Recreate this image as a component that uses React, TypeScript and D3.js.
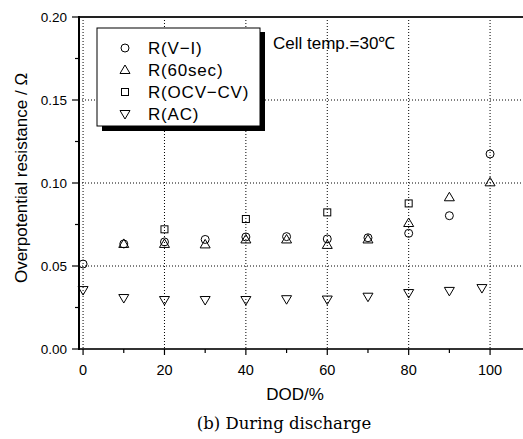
import React from "react";
import * as d3 from "d3";

const dodVI = [0, 10, 20, 30, 40, 50, 60, 70, 80, 90, 100];
const rVI = [0.0512, 0.0633, 0.0645, 0.066, 0.0675, 0.0677, 0.0663, 0.067, 0.0697, 0.0803, 0.1175];
const dod60 = [10, 20, 30, 40, 50, 60, 70, 80, 90, 100];
const r60 = [0.0633, 0.0633, 0.063, 0.066, 0.066, 0.0627, 0.066, 0.0759, 0.0914, 0.1004];
const dodOCV = [20, 40, 60, 80];
const rOCV = [0.0721, 0.0783, 0.0823, 0.0877];
const dodAC = [0, 10, 20, 30, 40, 50, 60, 70, 80, 90, 98];
const rAC = [0.0355, 0.0307, 0.0295, 0.0295, 0.0295, 0.03, 0.0298, 0.0315, 0.0337, 0.035, 0.0367];

const xMajor = [0, 20, 40, 60, 80, 100];
const xMinor = [10, 30, 50, 70, 90];
const yMajor = [0, 0.05, 0.1, 0.15, 0.2];
const yMinor = [0.025, 0.075, 0.125, 0.175];
const legendLabels = ["R(V\u2212I)", "R(60sec)", "R(OCV\u2212CV)", "R(AC)"];

const W = 523, H = 439;
const L = 79, R = 520.6, T = 17, B = 349;
const sans = "Arial, 'Liberation Sans', sans-serif";

function Marker({ kind, x, y }: { kind: string; x: number; y: number }) {
  const p = { fill: "none", stroke: "#000", strokeWidth: 1 };
  if (kind === "circle") return <circle cx={x} cy={y} r={4} {...p} />;
  if (kind === "square") return <rect x={x - 3.5} y={y - 3.5} width={7} height={7} {...p} />;
  if (kind === "up") return <path d={`M${x},${y - 5}L${x + 5},${y + 3.5}L${x - 5},${y + 3.5}Z`} {...p} />;
  return <path d={`M${x},${y + 5}L${x + 5},${y - 3.5}L${x - 5},${y - 3.5}Z`} {...p} />;
}

export default function App() {
  const x = d3.scaleLinear().domain([-1, 107.5]).range([L, R]);
  const y = d3.scaleLinear().domain([0, 0.2]).range([B, T]);
  const series = [
    { kind: "circle", xs: dodVI, ys: rVI },
    { kind: "up", xs: dod60, ys: r60 },
    { kind: "square", xs: dodOCV, ys: rOCV },
    { kind: "down", xs: dodAC, ys: rAC },
  ];
  const legendKinds = ["circle", "up", "square", "down"];
  return (
    <svg width={W} height={H} style={{ position: "absolute", left: 0, top: 0 }}>
      <rect width={W} height={H} fill="#fff" />
      {xMajor.map((v) => (
        <line key={"gx" + v} x1={x(v)} x2={x(v)} y1={T} y2={B} stroke="#000" strokeWidth={1} strokeDasharray="1,2" />
      ))}
      {yMajor.filter((v) => v > 0 && v < 0.2).map((v) => (
        <line key={"gy" + v} x1={L} x2={W} y1={y(v)} y2={y(v)} stroke="#000" strokeWidth={1} strokeDasharray="1,2" />
      ))}
      <line x1={L} x2={W} y1={T} y2={T} stroke="#222" strokeWidth={2} />
      <line x1={L} x2={W} y1={B} y2={B} stroke="#333" strokeWidth={2} />
      <line x1={L} x2={L} y1={T - 1} y2={B + 1} stroke="#000" strokeWidth={2} />
      {yMajor.map((v) => (
        <g key={"yt" + v}>
          <line x1={L - 7} x2={L} y1={y(v)} y2={y(v)} stroke="#000" strokeWidth={1.2} />
          <text x={L - 12} y={y(v) + 5} textAnchor="end" fontFamily={sans} fontSize={13.5}>{d3.format(".2f")(v)}</text>
        </g>
      ))}
      {yMinor.map((v) => (
        <line key={"ym" + v} x1={L - 4} x2={L} y1={y(v)} y2={y(v)} stroke="#000" strokeWidth={1.2} />
      ))}
      {xMajor.map((v) => (
        <g key={"xt" + v}>
          <line x1={x(v)} x2={x(v)} y1={B} y2={B + 6} stroke="#000" strokeWidth={1.2} />
          <text x={x(v)} y={375} textAnchor="middle" fontFamily={sans} fontSize={14.5}>{v}</text>
        </g>
      ))}
      {xMinor.map((v) => (
        <line key={"xm" + v} x1={x(v)} x2={x(v)} y1={B} y2={B + 4} stroke="#000" strokeWidth={1.2} />
      ))}
      {series.map((s, i) =>
        s.xs.map((d, j) => <Marker key={i + "-" + j} kind={s.kind} x={x(d)} y={y(s.ys[j])} />)
      )}
      <rect x={102} y={32} width={163} height={99} fill="#000" />
      <rect x={97} y={28} width={163} height={98} fill="#fff" stroke="#000" strokeWidth={1} />
      {legendLabels.map((lab, i) => (
        <g key={lab}>
          <Marker kind={legendKinds[i]} x={125} y={48 + i * 22} />
          <text x={148} y={48 + i * 22 + 6} fontFamily={sans} fontSize={17} letterSpacing={0.8}>{lab}</text>
        </g>
      ))}
      <text x={273} y={49} fontFamily={sans} fontSize={17}>Cell temp.=30℃</text>
      <text transform={`translate(27,178) rotate(-90)`} textAnchor="middle" fontFamily={sans} fontSize={17}>Overpotential resistance / Ω</text>
      <text x={295} y={400} textAnchor="middle" fontFamily={sans} fontSize={17}>DOD/%</text>
      <text x={284} y={429} textAnchor="middle" fontFamily="'DejaVu Serif', 'Liberation Serif', serif" fontSize={16.5}>(b) During discharge</text>
    </svg>
  );
}
